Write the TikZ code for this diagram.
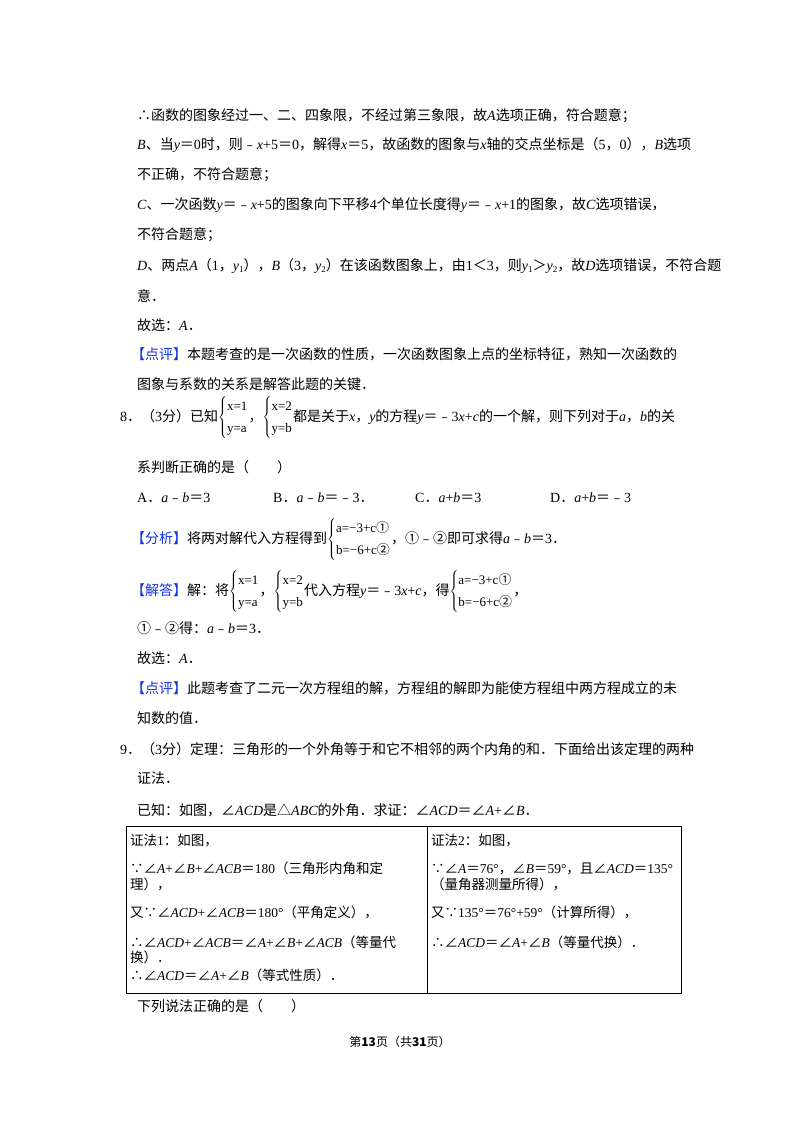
\documentclass[tikz,border=0pt]{standalone}
\usepackage{fontspec}
\setmainfont{Noto Sans CJK SC}
\newfontfamily\tm{Liberation Serif}
\newcommand\I[1]{{\tm\itshape #1}}
\newcommand\R[1]{{\tm #1}}
\newcommand\eq{{\rmfamily ＝}}
\newcommand\sub[1]{\raisebox{-2.5pt}{\fontsize{9}{9}\selectfont\tm #1}}
\newcommand\sys[2]{$\left\{\renewcommand\arraystretch{1.35}\begin{array}{@{}l@{}}\mbox{\fontsize{13}{13}\selectfont\tm #1}\\ \mbox{\fontsize{13}{13}\selectfont\tm #2}\end{array}\right.$}
\definecolor{tagblue}{RGB}{20,50,230}
\newcommand\tag[1]{{\color{tagblue}【#1】}}
\newcommand\ca{{\rmfamily ①}}
\newcommand\cb{{\rmfamily ②}}
\begin{document}
\begin{tikzpicture}[x=1pt,y=-1pt,
  ln/.style={anchor=base west,inner sep=0pt,font=\fontsize{14}{16}\selectfont},
  cell/.style={anchor=base west,inner sep=0pt,font=\fontsize{13.5}{15}\selectfont}]
\useasboundingbox[fill=white] (0,0) rectangle (800,1132);
\node[ln] (l1) at (137,120) {∴函数的图象经过一、二、四象限，不经过第三象限，故\I{A}选项正确，符合题意；};
\node[ln] (l2) at (137,149) {\I{B}、当\I{y}\eq\R{0}时，则﹣\I{x}\R{+5}\eq\R{0}，解得\I{x}\eq\R{5}，故函数的图象与\I{x}轴的交点坐标是（\R{5}，\R{0}），\I{B}选项};
\node[ln] (l3) at (137,179) {不正确，不符合题意；};
\node[ln] (l4) at (137,209) {\I{C}、一次函数\I{y}\eq﹣\I{x}\R{+5}的图象向下平移\R{4}个单位长度得\I{y}\eq﹣\I{x}\R{+1}的图象，故\I{C}选项错误，};
\node[ln] (l5) at (137,239) {不符合题意；};
\node[ln] (l6) at (137,270) {\I{D}、两点\I{A}（\R{1}，\I{y}\sub{1}），\I{B}（\R{3}，\I{y}\sub{2}）在该函数图象上，由\R{1}＜\R{3}，则\I{y}\sub{1}＞\I{y}\sub{2}，故\I{D}选项错误，不符合题};
\node[ln] (l7) at (137,301) {意．};
\node[ln] (l8) at (137,330) {故选：\I{A}．};
\node[ln] (l9) at (131,359) {\tag{点评}本题考查的是一次函数的性质，一次函数图象上点的坐标特征，熟知一次函数的};
\node[ln] (l10) at (137,389) {图象与系数的关系是解答此题的关键．};
\node[ln] (l11) at (120,421) {\R{8}．（\R{3}分）已知\sys{x=1}{y=a}，\sys{x=2}{y=b}都是关于\I{x}，\I{y}的方程\I{y}\eq﹣\R{3}\I{x}\R{+}\I{c}的一个解，则下列对于\I{a}，\I{b}的关};
\node[ln] (l12) at (137,472) {系判断正确的是（　　）};
\node[ln] (oa) at (137,502) {\R{A}．\I{a}﹣\I{b}\eq\R{3}};
\node[ln] (ob) at (273,502) {\R{B}．\I{a}﹣\I{b}\eq﹣\R{3}．};
\node[ln] (oc) at (415,502) {\R{C}．\I{a}\R{+}\I{b}\eq\R{3}};
\node[ln] (od) at (550,502) {\R{D}．\I{a}\R{+}\I{b}\eq﹣\R{3}};
\node[ln] (l14) at (131,543) {\tag{分析}将两对解代入方程得到\sys{a=−3+c\ca}{b=−6+c\cb}，①﹣②即可求得\I{a}﹣\I{b}\eq\R{3}．};
\node[ln] (l15) at (131,595) {\tag{解答}解：将\sys{x=1}{y=a}，\sys{x=2}{y=b}代入方程\I{y}\eq﹣\R{3}\I{x}\R{+}\I{c}，得\sys{a=−3+c\ca}{b=−6+c\cb}，};
\node[ln] (l16) at (137,633) {①﹣②得：\I{a}﹣\I{b}\eq\R{3}．};
\node[ln] (l17) at (137,663) {故选：\I{A}．};
\node[ln] (l18) at (131,693) {\tag{点评}此题考查了二元一次方程组的解，方程组的解即为能使方程组中两方程成立的未};
\node[ln] (l19) at (137,723) {知数的值．};
\node[ln] (l20) at (120,754) {\R{9}．（\R{3}分）定理：三角形的一个外角等于和它不相邻的两个内角的和．下面给出该定理的两种};
\node[ln] (l21) at (137,783) {证法．};
\node[ln] (l22) at (137,815) {已知：如图，∠\I{ACD}是△\I{ABC}的外角．求证：∠\I{ACD}\eq∠\I{A}\R{+}∠\I{B}．};
\draw[line width=0.9pt] (126,826) rectangle (681,993);
\draw[line width=0.9pt] (427,826) -- (427,993);
\node[cell] (a1) at (130,845) {证法\R{1}：如图，};
\node[cell] (a2) at (130,873) {∵∠\I{A}\R{+}∠\I{B}\R{+}∠\I{ACB}\eq\R{180}（三角形内角和定};
\node[cell] (a3) at (130,889) {理），};
\node[cell] (a4) at (130,917) {又∵∠\I{ACD}\R{+}∠\I{ACB}\eq\R{180°}（平角定义），};
\node[cell] (a5) at (130,947) {∴∠\I{ACD}\R{+}∠\I{ACB}\eq∠\I{A}\R{+}∠\I{B}\R{+}∠\I{ACB}（等量代};
\node[cell] (a6) at (130,962) {换）．};
\node[cell] (a7) at (130,980) {∴∠\I{ACD}\eq∠\I{A}\R{+}∠\I{B}（等式性质）．};
\node[cell] (b1) at (431,845) {证法\R{2}：如图，};
\node[cell] (b2) at (431,873) {∵∠\I{A}\eq\R{76°}，∠\I{B}\eq\R{59°}，且∠\I{ACD}\eq\R{135°}};
\node[cell] (b3) at (431,889) {（量角器测量所得），};
\node[cell] (b4) at (431,917) {又∵\R{135°}\eq\R{76°+59°}（计算所得），};
\node[cell] (b5) at (431,947) {∴∠\I{ACD}\eq∠\I{A}\R{+}∠\I{B}（等量代换）．};
\node[ln] (l23) at (137,1011) {下列说法正确的是（　　）};
\node[anchor=base,inner sep=0pt,font=\fontsize{12}{14}\selectfont] (ft) at (400,1046) {第\textbf{13}页（共\textbf{31}页）};
\end{tikzpicture}
\end{document}
